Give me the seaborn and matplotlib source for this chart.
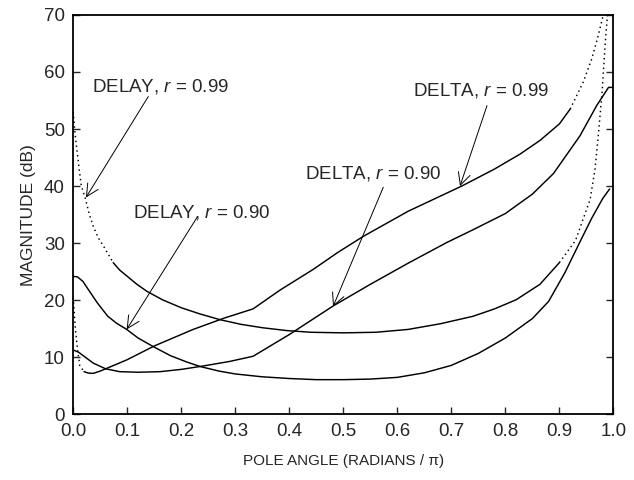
import numpy as np
import pandas as pd
import matplotlib
matplotlib.use("Agg")
import matplotlib.pyplot as plt
import seaborn as sns

# ---------------- data ----------------
delay99_x = [0.0, 0.003, 0.006, 0.011, 0.015, 0.022, 0.03, 0.037, 0.046, 0.056, 0.074, 0.086,
             0.10, 0.118, 0.136, 0.165, 0.2, 0.235, 0.272, 0.31, 0.35, 0.395, 0.44, 0.5, 0.56,
             0.62, 0.68, 0.74, 0.78, 0.82, 0.864, 0.90, 0.93, 0.957, 0.966, 0.972, 0.979,
             0.985, 0.989]
delay99_y = [53.0, 49.5, 47.0, 43.0, 40.0, 38.0, 35.0, 33.0, 31.0, 29.5, 26.6, 25.3,
             24.2, 22.8, 21.6, 20.1, 18.7, 17.6, 16.6, 15.8, 15.2, 14.7, 14.4, 14.3, 14.4,
             14.9, 15.9, 17.2, 18.5, 20.1, 22.8, 26.6, 30.5, 37.7, 43.0, 48.8, 56.4,
             65.2, 70.0]
delay99_solid = (0.074, 0.90)

delay90_x = [0.0, 0.008, 0.018, 0.03, 0.045, 0.064, 0.08, 0.099, 0.12, 0.148, 0.18, 0.21,
             0.235, 0.27, 0.30, 0.35, 0.40, 0.45, 0.50, 0.55, 0.60, 0.65, 0.70, 0.75, 0.80,
             0.85, 0.88, 0.91, 0.94, 0.96, 0.98, 0.993]
delay90_y = [24.2, 24.1, 23.3, 21.6, 19.5, 17.2, 16.0, 14.9, 13.4, 11.9, 10.3, 9.2,
             8.4, 7.6, 7.1, 6.6, 6.3, 6.1, 6.1, 6.2, 6.5, 7.3, 8.6, 10.7, 13.4,
             16.8, 19.8, 24.8, 30.6, 34.4, 37.8, 39.5]

delta99_x = [0.0, 0.004, 0.008, 0.012, 0.02, 0.028, 0.037, 0.05, 0.07, 0.10, 0.15, 0.222,
             0.28, 0.333, 0.383, 0.444, 0.49, 0.537, 0.62, 0.719, 0.78, 0.827, 0.864, 0.90,
             0.92, 0.944, 0.96, 0.972, 0.981]
delta99_y = [20.5, 15.0, 11.3, 8.6, 7.5, 7.25, 7.2, 7.6, 8.4, 9.6, 12.0, 14.9,
             16.9, 18.5, 21.8, 25.4, 28.4, 31.2, 35.6, 40.0, 43.0, 45.6, 48.0, 50.9,
             53.5, 58.2, 62.3, 66.4, 69.9]
delta99_solid = (0.02, 0.92)

delta90_x = [0.0, 0.01, 0.02, 0.037, 0.06, 0.086, 0.12, 0.161, 0.20, 0.241, 0.29, 0.333,
             0.40, 0.481, 0.55, 0.62, 0.691, 0.741, 0.80, 0.85, 0.889, 0.938, 0.969, 0.991,
             1.0, 1.0]
delta90_y = [11.3, 10.9, 10.2, 9.0, 8.0, 7.5, 7.4, 7.5, 7.9, 8.5, 9.3, 10.2,
             14.0, 19.0, 22.8, 26.5, 30.1, 32.4, 35.2, 38.6, 42.2, 48.8, 54.1, 57.3,
             57.3, 39.5]

x_ticks = [0.0, 0.1, 0.2, 0.3, 0.4, 0.5, 0.6, 0.7, 0.8, 0.9, 1.0]
y_ticks = [0, 10, 20, 30, 40, 50, 60, 70]

labels = ["DELAY, $r$ = 0.99", "DELAY, $r$ = 0.90", "DELTA, $r$ = 0.90", "DELTA, $r$ = 0.99"]
label_pos = [(0.035, 57.5), (0.111, 35.4), (0.429, 42.3), (0.629, 56.7)]
arrow_from = [(0.139, 55.7), (0.229, 34.5), (0.574, 39.8), (0.766, 54.1)]
arrow_to = [(0.0235, 38.0), (0.099, 14.9), (0.481, 18.9), (0.716, 40.0)]

# ---------------- style ----------------
sns.set_style("ticks")
plt.rcParams["font.family"] = ["Liberation Sans", "DejaVu Sans"]
plt.rcParams["mathtext.fontset"] = "custom"
plt.rcParams["mathtext.it"] = "Liberation Sans:italic"
plt.rcParams["mathtext.rm"] = "Liberation Sans"

fig = plt.figure(figsize=(6.34, 4.8), dpi=100)
ax = fig.add_axes([0.1155, 0.1365, 0.852, 0.8325])

LW = 1.05
DOT = (0, (1, 2.3))


def draw(xs, ys, solid=None):
    df = pd.DataFrame({"x": xs, "y": ys})
    kw = dict(x="x", y="y", color="black", lw=LW, sort=False, estimator=None, ax=ax)
    if solid is None:
        sns.lineplot(data=df, **kw)
        return
    a, b = solid
    sns.lineplot(data=df[df.x <= a], linestyle=DOT, **kw)
    sns.lineplot(data=df[(df.x >= a) & (df.x <= b)], **kw)
    sns.lineplot(data=df[df.x >= b], linestyle=DOT, **kw)


draw(delay99_x, delay99_y, delay99_solid)
draw(delay90_x, delay90_y)
draw(delta99_x, delta99_y, delta99_solid)
draw(delta90_x, delta90_y)

for lab, pos, fr, to in zip(labels, label_pos, arrow_from, arrow_to):
    ax.text(pos[0], pos[1], lab, fontsize=13.5, ha="left", va="center")
    ax.annotate("", xy=to, xytext=fr,
                arrowprops=dict(arrowstyle="->", lw=0.7, color="black",
                                mutation_scale=22, shrinkA=0, shrinkB=0))

ax.set_xlim(0, 1.0)
ax.set_ylim(0, 70)
ax.set_xticks(x_ticks)
ax.set_xticklabels([f"{v:.1f}" for v in x_ticks])
ax.set_yticks(y_ticks)
ax.tick_params(direction="in", length=5, width=1, labelsize=13.5, right=True, pad=6)
ax.set_xlabel("POLE ANGLE (RADIANS / π)", fontsize=11, labelpad=10)
ax.set_ylabel("MAGNITUDE (dB)", fontsize=12.5, labelpad=6)
for s in ax.spines.values():
    s.set_linewidth(1.3)
    s.set_color("black")

fig.savefig("out.png", dpi=100)
